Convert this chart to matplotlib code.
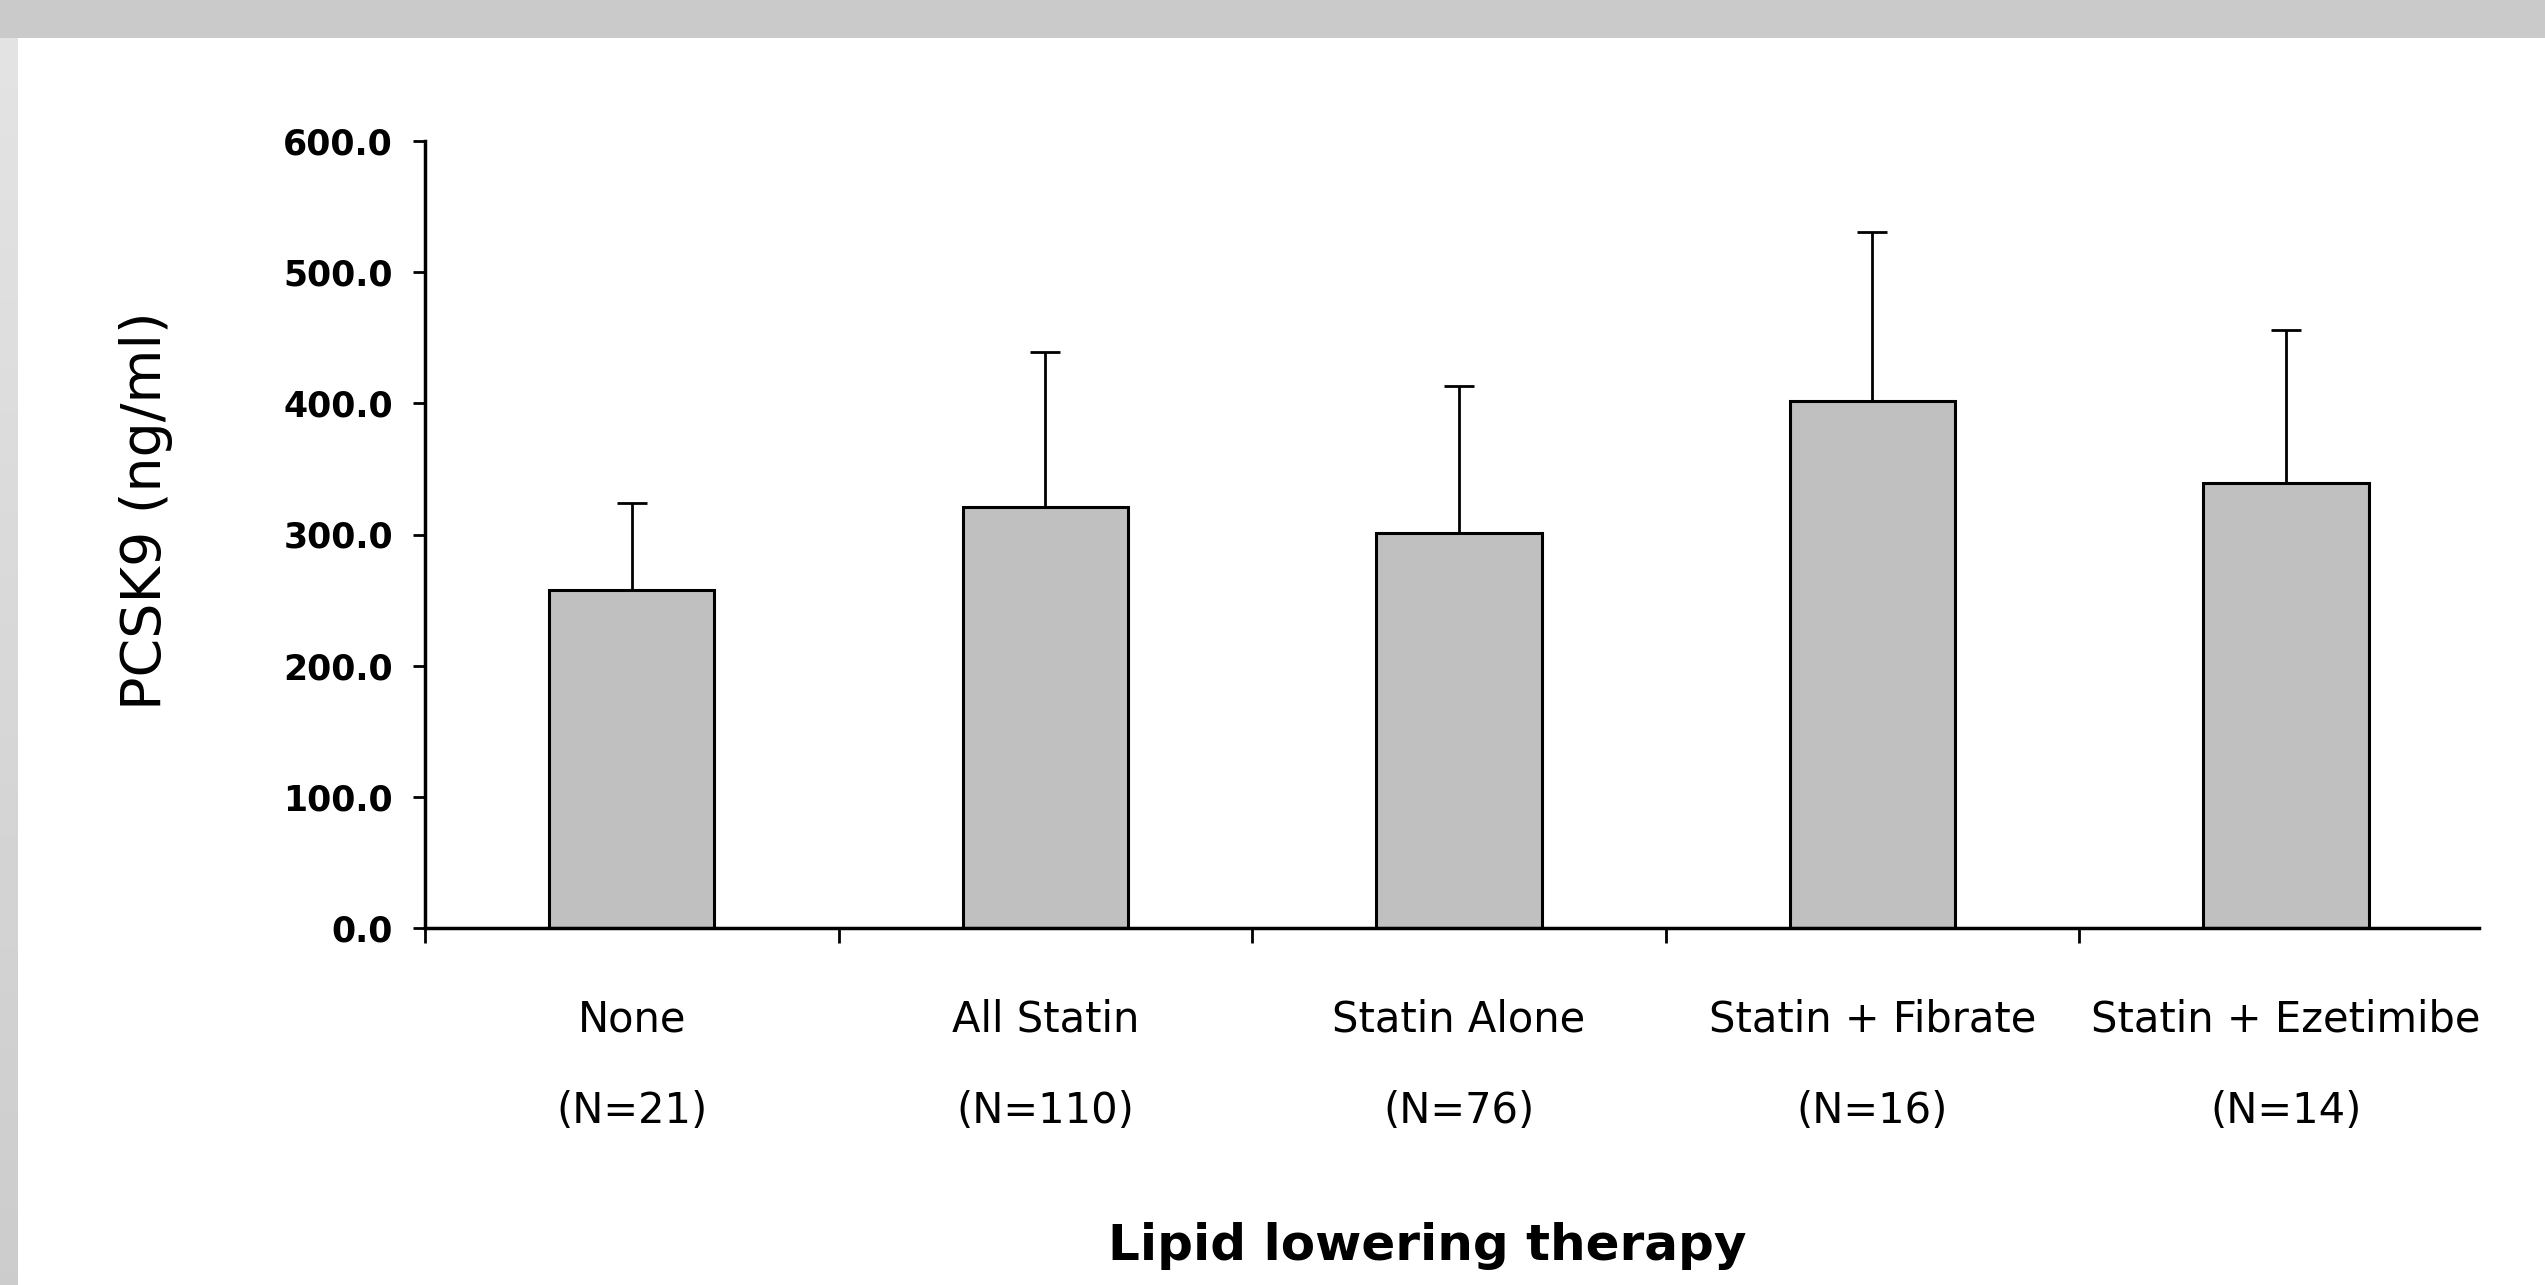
import numpy as np
import matplotlib
matplotlib.use("Agg")
import matplotlib.pyplot as plt

# PCSK9 by lipid lowering therapy (mean with upper SD bar)
groups = ["None", "All Statin", "Statin Alone", "Statin + Fibrate", "Statin + Ezetimibe"]
counts = ["(N=21)", "(N=110)", "(N=76)", "(N=16)", "(N=14)"]
means = [258, 321, 301, 402, 339]
sds = [66, 118, 112, 129, 117]
yticks = [0, 100, 200, 300, 400, 500, 600]

fig = plt.figure(figsize=(25.45, 12.85), dpi=100)
fig.patch.set_facecolor("white")

# grey frame at the top and left edge of the slide
top = fig.add_axes([0, 1 - 38 / 1285, 1, 38 / 1285])
top.set_facecolor("#cacaca")
top.axis("off")
top.add_patch(plt.Rectangle((0, 0), 1, 1, transform=top.transAxes, color="#cacaca"))
left = fig.add_axes([0, 0, 18 / 2545, 1 - 38 / 1285])
left.imshow(np.linspace(0.80, 0.89, 100).reshape(-1, 1)[::-1], cmap="gray", vmin=0, vmax=1,
            aspect="auto", extent=[0, 1, 0, 1])
left.axis("off")

ax = fig.add_axes([425 / 2545, 1 - 928 / 1285, 2054 / 2545, 787 / 1285])
x = np.arange(len(groups))
ax.bar(x, means, width=0.4, color="#c0c0c0", edgecolor="black", linewidth=2.2, zorder=2)
ax.errorbar(x, means, yerr=[np.zeros(len(sds)), sds], fmt="none", ecolor="black",
            elinewidth=2, capsize=11, capthick=2, zorder=1)

ax.set_xlim(-0.5, 4.467)
ax.set_ylim(0, 600)
ax.spines["top"].set_visible(False)
ax.spines["right"].set_visible(False)
ax.spines["left"].set_linewidth(2.5)
ax.spines["bottom"].set_linewidth(2.5)

ax.set_yticks(yticks)
ax.set_yticklabels(["%.1f" % v for v in yticks], fontsize=25, fontweight="bold",
                   family="DejaVu Sans")
ax.tick_params(axis="y", length=9, width=2, pad=14)

ax.set_xticks(x)
ax.set_xticklabels([g + "\n" + n for g, n in zip(groups, counts)], fontsize=30,
                   family="DejaVu Sans")
for lab in ax.get_xticklabels():
    lab.set_linespacing(2.5)
ax.tick_params(axis="x", which="major", length=0, pad=51)
ax.set_xticks(np.arange(-0.5, 4.0, 1.0), minor=True)
ax.tick_params(axis="x", which="minor", length=11, width=2, direction="out")

ax.set_ylabel("PCSK9 (ng/ml)", fontsize=40, family="DejaVu Sans")
ax.yaxis.set_label_coords(-0.1358, 0.53)
ax.yaxis.label.set_va("center")
ax.set_xlabel("Lipid lowering therapy", fontsize=36, fontweight="bold", family="DejaVu Sans")
ax.xaxis.set_label_coords(0.488, -0.404)
ax.xaxis.label.set_va("center")

fig.savefig("out.png", dpi=100)
